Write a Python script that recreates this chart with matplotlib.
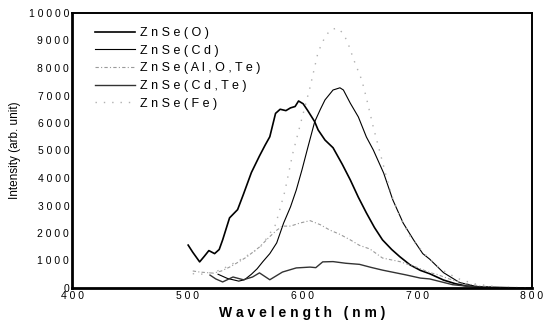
import matplotlib
matplotlib.use("Agg")
import matplotlib.pyplot as plt
from matplotlib.ticker import FuncFormatter

plt.rcParams['font.family'] = ['Liberation Sans', 'DejaVu Sans']

# ---- data ----
o_wl = [501, 505, 511, 515, 519, 524, 528, 531, 537, 544, 549, 556, 563, 568, 572, 577, 581, 586, 590,
        594, 597, 601, 605, 611, 614, 620, 627, 635, 642, 649, 656, 663, 670, 678, 685, 694, 703, 711,
        723, 733, 743, 760, 780, 800]
o_val = [1560, 1300, 950, 1150, 1360, 1250, 1400, 1750, 2550, 2850, 3400, 4200, 4800, 5200, 5500, 6350,
         6500, 6450, 6550, 6600, 6800, 6700, 6450, 6050, 5750, 5380, 5100, 4500, 3930, 3300, 2730, 2200,
         1750, 1400, 1140, 840, 640, 520, 290, 160, 70, 30, 10, 0]

cd_wl = [527, 535, 545, 550, 556, 561, 566, 572, 578, 584, 590, 595, 600, 605, 611, 616, 620, 627, 633,
         636, 642, 649, 656, 662, 671, 679, 688, 697, 705, 711, 723, 737, 752, 770, 800]
cd_val = [500, 350, 250, 300, 500, 700, 960, 1250, 1640, 2360, 2950, 3560, 4300, 5100, 6040, 6500, 6840,
          7200, 7280, 7200, 6720, 6220, 5490, 5020, 4180, 3200, 2360, 1750, 1250, 1050, 560, 200, 50, 10, 0]

alote_wl = [505, 511, 523, 530, 537, 545, 552, 563, 572, 578, 583, 590, 598, 607, 616, 624, 633, 642, 650,
            659, 670, 685, 700, 711, 717, 728, 740, 755, 775, 800]
alote_val = [620, 580, 540, 620, 760, 950, 1130, 1490, 1870, 2100, 2250, 2250, 2360, 2450, 2300, 2110, 1950,
             1750, 1550, 1420, 1090, 960, 750, 560, 500, 330, 180, 70, 15, 0]

cdte_wl = [520, 525, 531, 540, 549, 557, 563, 572, 583, 595, 607, 612, 618, 627, 638, 650, 660, 670, 690,
           703, 711, 731, 750, 770, 800]
cdte_val = [470, 330, 220, 400, 300, 400, 550, 300, 580, 730, 760, 740, 950, 960, 900, 860, 750, 650, 480,
            360, 330, 120, 40, 10, 0]

fe_wl = [505, 515, 529, 546, 563, 570, 577, 585, 592, 600, 607, 614, 620, 625, 631, 636, 640, 645, 652,
         656, 662, 668, 674, 679, 685, 695, 709, 720, 735, 750, 770, 800]
fe_val = [520, 500, 650, 1020, 1450, 1850, 2300, 3500, 4900, 6180, 7300, 8580, 9130, 9400, 9450, 9250,
          8900, 8300, 7560, 6910, 5850, 4900, 3950, 3250, 2600, 1800, 1130, 700, 350, 150, 40, 0]

labels = ["ZnSe(O)", "ZnSe(Cd)", "ZnSe(Al,O,Te)", "ZnSe(Cd,Te)", "ZnSe(Fe)"]
x_ticks = [400, 500, 600, 700, 800]
y_ticks = [0, 1000, 2000, 3000, 4000, 5000, 6000, 7000, 8000, 9000, 10000]
x_label = "Wavelength (nm)"
y_label = "Intensity (arb. unit)"


def spaced(s):
    return " ".join(s)


fig = plt.figure(figsize=(5.48, 3.2), dpi=100)
ax = fig.add_axes([72 / 548, 1 - 288 / 320, 460 / 548, 275 / 320])

ax.plot(o_wl, o_val, color='black', lw=1.2, label=spaced(labels[0]))
ax.plot(cd_wl, cd_val, color='black', lw=0.8, label=spaced(labels[1]))
ax.plot(alote_wl, alote_val, color='#9a9a9a', lw=0.8, ls=(0, (3, 2, 1, 2)), label=spaced(labels[2]))
ax.plot(cdte_wl, cdte_val, color='#333333', lw=1.0, label=spaced(labels[3]))
ax.plot(fe_wl, fe_val, color='#b0b0b0', lw=1.0, ls=(0, (1, 5)), label=spaced(labels[4]))

ax.set_xlim(400, 800)
ax.set_ylim(0, 10000)
ax.set_xticks(x_ticks)
ax.set_yticks(y_ticks)
ax.xaxis.set_major_formatter(FuncFormatter(lambda v, p: spaced(str(int(v)))))
ax.yaxis.set_major_formatter(FuncFormatter(lambda v, p: spaced(str(int(v)))))
ax.tick_params(length=0, labelsize=7.5, pad=2)

ax.set_xlabel(spaced(x_label), fontsize=10, fontweight='bold', labelpad=4)
ax.set_ylabel(y_label, fontsize=8.5, labelpad=6)

for side in ['left', 'bottom']:
    ax.spines[side].set_linewidth(2)
for side in ['top', 'right']:
    ax.spines[side].set_linewidth(1.4)

leg = ax.legend(loc='upper left', bbox_to_anchor=(23 / 460, (288 - 27) / 275), frameon=False,
                fontsize=9, handlelength=3.2, handletextpad=0.4, labelspacing=0.45, borderpad=0,
                borderaxespad=0)

fig.savefig("out.png", dpi=100)
